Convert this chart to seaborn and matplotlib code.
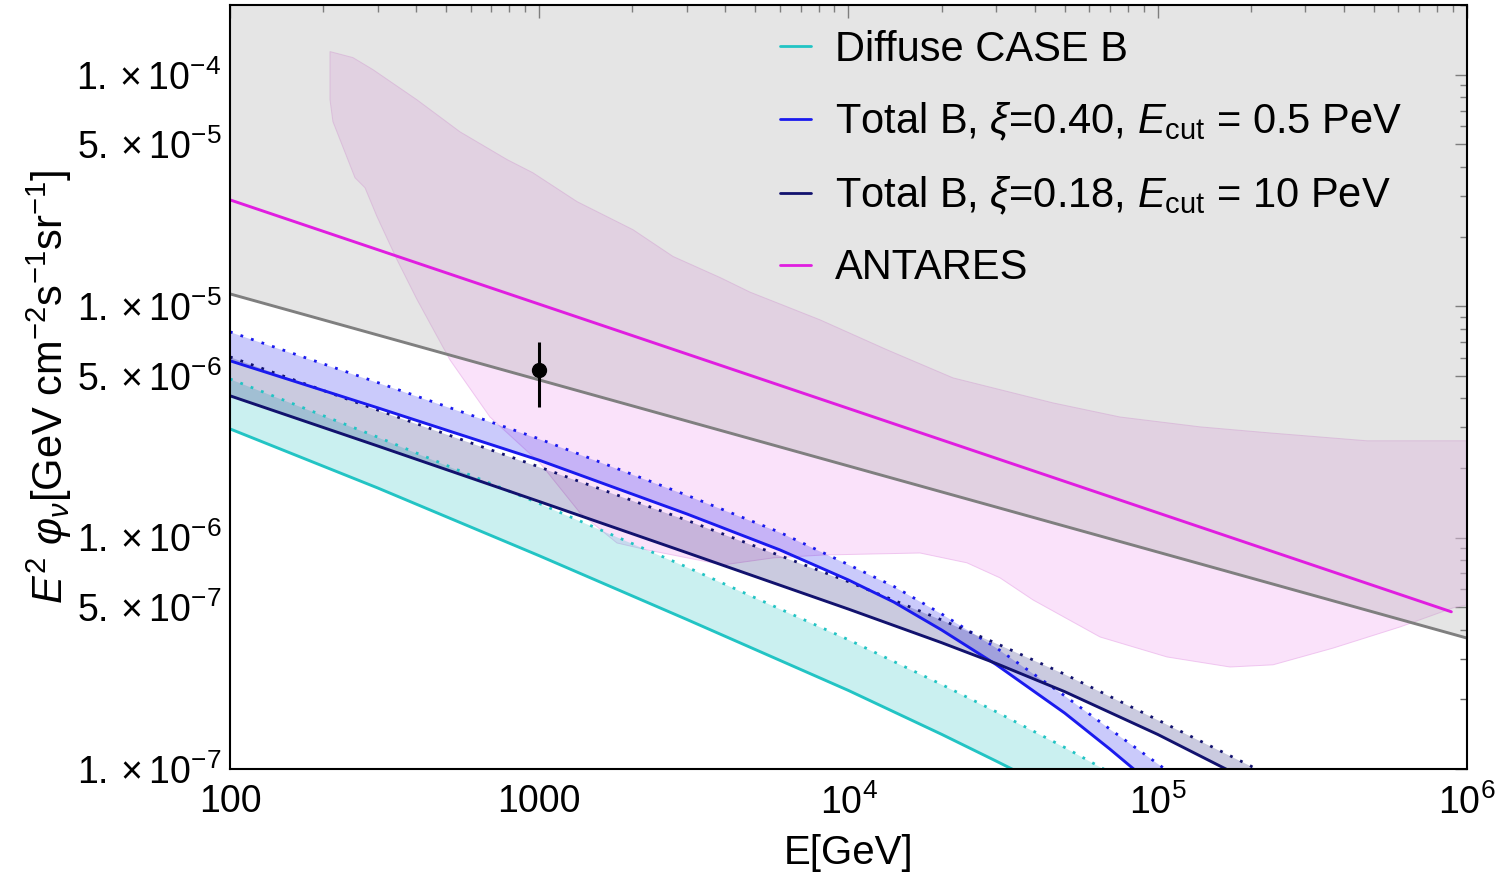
import numpy as np
import pandas as pd
import matplotlib
matplotlib.use("Agg")
import matplotlib.pyplot as plt
import seaborn as sns
from matplotlib.lines import Line2D
from matplotlib.ticker import FixedLocator, NullFormatter

# ---------------- data ----------------
# Diffuse CASE B band (solid = lower, dotted = upper)
E_diff_lo = [100, 300, 1000, 3000, 1e4, 2e4, 3e4, 5e4, 7e4]
diff_lo = [2.95e-6, 1.64e-6, 8.35e-7, 4.43e-7, 2.185e-7, 1.413e-7, 1.083e-7, 7.69e-8, 6.08e-8]
E_diff_hi = [100, 300, 1000, 3000, 1e4, 2e4, 3e4, 5e4, 7e4, 1e5]
diff_hi = [4.85e-6, 2.72e-6, 1.405e-6, 7.46e-7, 3.62e-7, 2.32e-7, 1.769e-7, 1.24e-7, 9.67e-8, 7.45e-8]

# Total B, xi=0.40, Ecut=0.5 PeV
E_b040 = [100, 300, 1000, 3000, 6000, 1e4, 1.4e4, 2e4, 3e4, 5e4, 7e4, 1e5, 1.2e5]
b040_lo = [5.81e-6, 3.64e-6, 2.16e-6, 1.266e-6, 8.85e-7, 6.56e-7, 5.27e-7, 3.99e-7, 2.83e-7,
           1.746e-7, 1.22e-7, 8.19e-8, 6.58e-8]
b040_hi = [7.75e-6, 4.68e-6, 2.67e-6, 1.525e-6, 1.054e-6, 7.64e-7, 6.16e-7, 4.68e-7, 3.345e-7,
           2.073e-7, 1.488e-7, 1.054e-7, 8.78e-8]

# Total B, xi=0.18, Ecut=10 PeV
E_b018 = [100, 300, 1000, 3000, 1e4, 2e4, 3e4, 5e4, 1e5, 2e5, 3e5]
b018_lo = [4.10e-6, 2.49e-6, 1.432e-6, 8.61e-7, 4.91e-7, 3.516e-7, 2.86e-7, 2.16e-7, 1.411e-7, 8.82e-8, 6.52e-8]
b018_hi = [6.04e-6, 3.56e-6, 2.02e-6, 1.189e-6, 6.45e-7, 4.41e-7, 3.496e-7, 2.57e-7, 1.63e-7, 1.03e-7, 7.5e-8]

# ANTARES best fit line
E_ant = [100, 8.9e5]
ant_y = [2.88e-5, 4.78e-7]

# ANTARES band
E_band_up = [210.6, 249.8, 290, 402, 554, 787, 954, 1325, 2010, 2707, 3842, 4803, 8088,
             1.332e4, 2.177e4, 4.585e4, 7.55e4, 1.369e5, 2.256e5, 4.75e5, 1e6]
band_up = [1.259e-4, 1.186e-4, 1.052e-4, 7.80e-5, 5.67e-5, 4.30e-5, 3.77e-5, 2.83e-5, 2.14e-5,
           1.64e-5, 1.33e-5, 1.15e-5, 8.73e-6, 6.48e-6, 4.90e-6, 3.82e-6, 3.32e-6, 3.01e-6,
           2.84e-6, 2.62e-6, 2.62e-6]
E_band_lo = [210.6, 215.3, 253.7, 273.3, 298.8, 346.7, 402.4, 514.5, 693, 1006, 1354, 1784, 2230,
             3929, 5700, 8272, 1.703e4, 2.416e4, 3.09e4, 3.95e4, 6.51e4, 1.071e5, 1.713e5,
             2.358e5, 3.687e5, 6.07e5, 9.01e5, 1e6]
band_lo = [7.80e-5, 6.27e-5, 3.59e-5, 3.25e-5, 2.44e-5, 1.59e-5, 1.07e-5, 5.86e-6, 3.32e-6,
           2.10e-6, 1.28e-6, 9.48e-7, 8.85e-7, 7.62e-7, 8.17e-7, 8.41e-7, 8.58e-7, 7.78e-7,
           6.70e-7, 5.38e-7, 3.72e-7, 3.05e-7, 2.76e-7, 2.82e-7, 3.33e-7, 4.11e-7, 4.97e-7, 5.12e-7]

# grey limit line (region above it shaded)
E_grey = [100, 1e6]
grey_y = [1.13e-5, 3.68e-7]

# data point with error bar
pt_E = [1000]
pt_y = [5.31e-6]
pt_ylo = [3.67e-6]
pt_yhi = [7.02e-6]

legend_labels = ["Diffuse CASE B",
                 r"Total B, $\xi$=0.40, $E_{\mathrm{cut}}$ = 0.5 PeV",
                 r"Total B, $\xi$=0.18, $E_{\mathrm{cut}}$ = 10 PeV",
                 "ANTARES"]

x_major = [100, 1000, 1e4, 1e5, 1e6]
x_major_labels = ["100", "1000", r"$10^4$", r"$10^5$", r"$10^6$"]
y_major = [1e-7, 5e-7, 1e-6, 5e-6, 1e-5, 5e-5, 1e-4]
y_major_labels = [r"$1.\times10^{-7}$", r"$5.\times10^{-7}$", r"$1.\times10^{-6}$",
                  r"$5.\times10^{-6}$", r"$1.\times10^{-5}$", r"$5.\times10^{-5}$",
                  r"$1.\times10^{-4}$"]

# ---------------- style ----------------
sns.set_theme(style="white")
plt.rcParams["font.family"] = ["Liberation Sans", "DejaVu Sans"]
plt.rcParams["mathtext.fontset"] = "custom"
plt.rcParams["mathtext.rm"] = "Liberation Sans"
plt.rcParams["mathtext.it"] = "Liberation Sans:italic"
plt.rcParams["mathtext.bf"] = "Liberation Sans:bold"
plt.rcParams["text.color"] = "black"
plt.rcParams["axes.labelcolor"] = "black"

C_CYAN = "#22c4c4"
C_BLUE = "#1a1aee"
C_NAVY = "#12126e"
C_MAG = "#e01ee0"
C_GREY = "#7f7f7f"

fig = plt.figure(figsize=(15.04, 8.76), dpi=100)
ax = fig.add_axes([0.1529, 0.1221, 0.8225, 0.8721])
ax.set_xscale("log")
ax.set_yscale("log")
ax.set_xlim(100, 1e6)
ax.set_ylim(1e-7, 2e-4)
ax.set_facecolor("white")

# ANTARES band
ax.fill(E_band_up + E_band_lo[::-1], band_up + band_lo[::-1],
        facecolor="#f7c6f7", alpha=0.5, edgecolor="#e39be3", linewidth=0.7, zorder=1)

# grey excluded region
ax.fill_between(E_grey, grey_y, [2e-4, 2e-4], color="#b0b0b0", alpha=0.33, linewidth=0, zorder=2)

# model bands
ax.fill_between(E_diff_hi, np.interp(np.log(E_diff_hi), np.log(E_diff_lo), diff_lo,
                                     right=diff_lo[-1] * 0.7),
                diff_hi, color=C_CYAN, alpha=0.24, linewidth=0, zorder=3)
ax.fill_between(E_b040, b040_lo, b040_hi, color=C_BLUE, alpha=0.23, linewidth=0, zorder=3)
ax.fill_between(E_b018, b018_lo, b018_hi, color=C_NAVY, alpha=0.22, linewidth=0, zorder=3)

dot = (0, (1, 3.0))
lw = 2.1
sns.lineplot(x=E_diff_hi, y=diff_hi, ax=ax, color=C_CYAN, lw=2.0, linestyle=dot, estimator=None, sort=False, zorder=4)
sns.lineplot(x=E_b040, y=b040_hi, ax=ax, color=C_BLUE, lw=2.0, linestyle=dot, estimator=None, sort=False, zorder=4)
sns.lineplot(x=E_b018, y=b018_hi, ax=ax, color=C_NAVY, lw=2.0, linestyle=dot, estimator=None, sort=False, zorder=4)

sns.lineplot(x=E_diff_lo, y=diff_lo, ax=ax, color=C_CYAN, lw=lw, estimator=None, sort=False, zorder=5)
sns.lineplot(x=E_b040, y=b040_lo, ax=ax, color=C_BLUE, lw=lw, estimator=None, sort=False, zorder=5)
sns.lineplot(x=E_b018, y=b018_lo, ax=ax, color=C_NAVY, lw=lw, estimator=None, sort=False, zorder=5)
sns.lineplot(x=E_grey, y=grey_y, ax=ax, color=C_GREY, lw=lw, estimator=None, sort=False, zorder=5)
sns.lineplot(x=E_ant, y=ant_y, ax=ax, color=C_MAG, lw=lw, estimator=None, sort=False, zorder=5)

# data point
yerr = [[pt_y[0] - pt_ylo[0]], [pt_yhi[0] - pt_y[0]]]
ax.errorbar(pt_E, pt_y, yerr=yerr, fmt="o", color="black", ms=10, elinewidth=2.2, capsize=0, zorder=6)

# ticks
ax.xaxis.set_major_locator(FixedLocator(x_major))
ax.set_xticklabels(x_major_labels)
x_minor = [m * 10 ** k for k in range(2, 6) for m in range(2, 10)]
ax.xaxis.set_minor_locator(FixedLocator(x_minor))
ax.xaxis.set_minor_formatter(NullFormatter())
ax.yaxis.set_major_locator(FixedLocator(y_major))
ax.set_yticklabels(y_major_labels)
y_minor = [m * 10.0 ** k for k in range(-7, -3) for m in (2, 3, 4, 6, 7, 8, 9)] + [2e-4]
ax.yaxis.set_minor_locator(FixedLocator(y_minor))
ax.yaxis.set_minor_formatter(NullFormatter())

ax.tick_params(which="both", direction="in", top=True, right=True, color="#666666",
               width=1, labelcolor="black")
ax.tick_params(which="major", length=9, labelsize=27)
ax.tick_params(axis="y", which="major", pad=6)
ax.tick_params(axis="x", which="major", pad=11)
ax.tick_params(which="minor", length=5)
for s in ax.spines.values():
    s.set_color("black")
    s.set_linewidth(1.5)
    s.set_zorder(10)

ax.set_xlabel("E[GeV]", fontsize=29, labelpad=9)
ax.set_ylabel(r"$E^2\ \varphi_\nu$[GeV cm$^{-2}$s$^{-1}$sr$^{-1}$]", fontsize=30, labelpad=2)

handles = [Line2D([], [], color=c, lw=2) for c in (C_CYAN, C_BLUE, C_NAVY, C_MAG)]
ax.legend(handles, legend_labels, loc="upper left", bbox_to_anchor=(0.4446, 0.968),
          frameon=False, fontsize=30, handlelength=0.75, handletextpad=0.57,
          labelspacing=0.75, borderpad=0, borderaxespad=0)

fig.savefig("out.png", dpi=100)
